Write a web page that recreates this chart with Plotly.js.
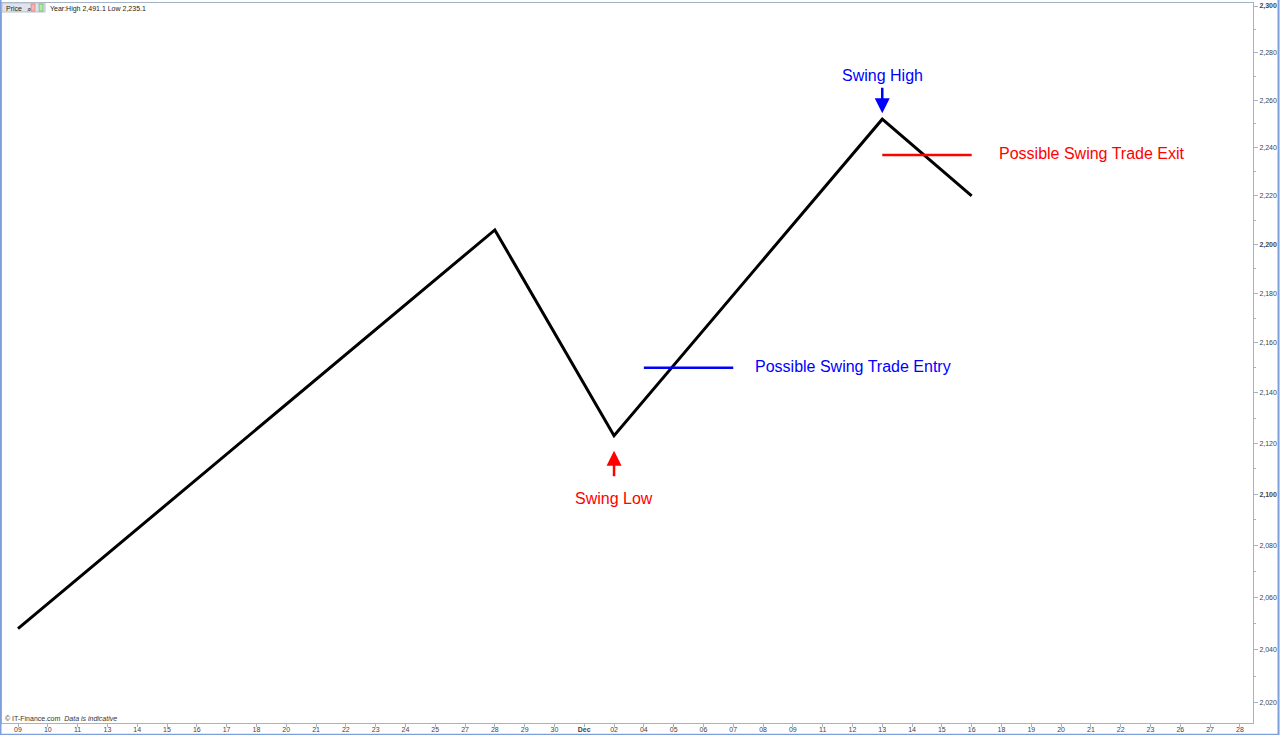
<!DOCTYPE html>
<html>
<head>
<meta charset="utf-8">
<script src="https://cdn.plot.ly/plotly-3.0.1.min.js"></script>
<style>
  html, body { margin: 0; padding: 0; background: #ffffff; }
  #chart { width: 1280px; height: 735px; }
</style>
</head>
<body>
<div id="chart"></div>
<script>
// Trading sessions shown on the time axis (category keys) and their printed labels
const sessionKeys = [
  'Nov 09','Nov 10','Nov 11','Nov 13','Nov 14','Nov 15','Nov 16','Nov 17','Nov 18',
  'Nov 20','Nov 21','Nov 22','Nov 23','Nov 24','Nov 25','Nov 27','Nov 28','Nov 29','Nov 30',
  'Dec 01','Dec 02','Dec 04','Dec 05','Dec 06','Dec 07','Dec 08','Dec 09','Dec 11','Dec 12',
  'Dec 13','Dec 14','Dec 15','Dec 16','Dec 18','Dec 19','Dec 20','Dec 21','Dec 22','Dec 23',
  'Dec 26','Dec 27','Dec 28'
];
const sessionLabels = [
  '09','10','11','13','14','15','16','17','18',
  '20','21','22','23','24','25','27','28','29','30',
  '<b>Dec</b>','02','04','05','06','07','08','09','11','12',
  '13','14','15','16','18','19','20','21','22','23',
  '26','27','28'
];

// Swing points of the price path
const swingDates  = ['Nov 09', 'Nov 28', 'Dec 02', 'Dec 13', 'Dec 16'];
const swingPrices = [2048, 2206, 2123, 2252, 2220];

// Trade levels
const entryDates = ['Dec 04', 'Dec 07'];
const entryLevel = 2150;
const exitDates  = ['Dec 13', 'Dec 16'];
const exitLevel  = 2237;

// Price scale ticks
const priceTicks = [2020, 2040, 2060, 2080, 2100, 2120, 2140, 2160, 2180, 2200, 2220, 2240, 2260, 2280, 2300];
const priceMinorTicks = [2030, 2050, 2070, 2090, 2110, 2130, 2150, 2170, 2190, 2210, 2230, 2250, 2270, 2290];
const priceTickText = priceTicks.map(v => {
  const s = v.toLocaleString('en-US');
  return (v % 100 === 0) ? '<b>' + s + '</b>' : s;
});

const lg = v => Math.log10(v);
const swingLowIdx = 2, swingHighIdx = 3;

const axisLine = '#a4b3c6';
const frameBlue = '#7d9fdc';
const tickFont = { family: 'Liberation Sans, Arial, sans-serif', size: 7, color: '#444444' };
const noteFont = (c) => ({ family: 'Liberation Sans, Arial, sans-serif', size: 16, color: c });

const traces = [
  {
    x: swingDates, y: swingPrices, type: 'scatter', mode: 'lines',
    line: { color: '#000000', width: 3 }, hoverinfo: 'skip'
  },
  {
    x: entryDates, y: [entryLevel, entryLevel], type: 'scatter', mode: 'lines',
    line: { color: '#0000ff', width: 2.5 }, hoverinfo: 'skip'
  },
  {
    x: exitDates, y: [exitLevel, exitLevel], type: 'scatter', mode: 'lines',
    line: { color: '#ff0000', width: 2.5 }, hoverinfo: 'skip'
  }
];

const layout = {
  width: 1280, height: 735,
  margin: { l: 2, r: 27, t: 3, b: 12, pad: 0 },
  paper_bgcolor: '#ffffff', plot_bgcolor: '#ffffff',
  showlegend: false,
  font: { family: 'Liberation Sans, Arial, sans-serif' },
  xaxis: {
    type: 'category',
    categoryorder: 'array', categoryarray: sessionKeys,
    tickmode: 'array', tickvals: sessionKeys, ticktext: sessionLabels,
    range: [-0.537, 41.44],
    showgrid: false, zeroline: false,
    showline: true, linecolor: axisLine, linewidth: 1, mirror: true,
    ticks: 'outside', ticklen: 3, tickcolor: axisLine, tickwidth: 1,
    ticklabelstandoff: -3,
    tickfont: tickFont, tickangle: 0,
    fixedrange: true
  },
  yaxis: {
    type: 'log', side: 'right',
    range: [lg(2012.3), lg(2301.3)],
    tickmode: 'array', tickvals: priceTicks, ticktext: priceTickText,
    showgrid: false, zeroline: false,
    showline: true, linecolor: axisLine, linewidth: 1, mirror: true,
    ticks: 'outside', ticklen: 4, tickcolor: axisLine, tickwidth: 1,
    tickfont: tickFont,
    minor: { tickmode: 'array', tickvals: priceMinorTicks, ticks: 'outside', ticklen: 2, tickcolor: axisLine, showgrid: false },
    fixedrange: true
  },
  shapes: [
    // window frame
    { type: 'line', xref: 'paper', yref: 'paper', x0: -0.0012, x1: -0.0012, y0: -0.016, y1: 1.01, line: { color: frameBlue, width: 2 } },
    { type: 'line', xref: 'paper', yref: 'paper', x0: 1.0204, x1: 1.0204, y0: -0.016, y1: 1.01, line: { color: frameBlue, width: 2 } },
    { type: 'line', xref: 'paper', yref: 'paper', x0: -0.002, x1: 1.021, y0: -0.016, y1: -0.016, line: { color: frameBlue, width: 1.5 } },
    // header tool box
    { type: 'rect', xref: 'paper', yref: 'paper', x0: 0.0, x1: 0.0344, y0: 0.9875, y1: 1.0, fillcolor: '#dfe4ec', line: { color: '#b7c0cc', width: 1 } },
    { type: 'rect', xref: 'paper', yref: 'paper', x0: 0.0232, x1: 0.0264, y0: 0.9888, y1: 0.9986, fillcolor: '#f3b7b7', line: { color: '#d55', width: 0.5 } },
    { type: 'rect', xref: 'paper', yref: 'paper', x0: 0.0296, x1: 0.0328, y0: 0.9888, y1: 0.9986, fillcolor: '#b9e6b3', line: { color: '#3a3', width: 0.5 } }
  ],
  annotations: [
    // arrows
    {
      x: swingDates[swingHighIdx], y: lg(swingPrices[swingHighIdx]), xref: 'x', yref: 'y',
      text: '', showarrow: true, ax: 0, ay: -33, standoff: 6,
      arrowhead: 2, arrowsize: 1.2, arrowwidth: 2.5, arrowcolor: '#0000ff'
    },
    {
      x: swingDates[swingLowIdx], y: lg(swingPrices[swingLowIdx]), xref: 'x', yref: 'y',
      text: '', showarrow: true, ax: 0, ay: 42, standoff: 15,
      arrowhead: 2, arrowsize: 1.2, arrowwidth: 2.5, arrowcolor: '#ff0000'
    },
    // labels
    {
      x: swingDates[swingHighIdx], y: lg(swingPrices[swingHighIdx]), xref: 'x', yref: 'y',
      text: 'Swing High', showarrow: false, yshift: 44, font: noteFont('#0000ff')
    },
    {
      x: swingDates[swingLowIdx], y: lg(swingPrices[swingLowIdx]), xref: 'x', yref: 'y',
      text: 'Swing Low', showarrow: false, yshift: -63, font: noteFont('#ff0000')
    },
    {
      x: entryDates[1], y: lg(entryLevel), xref: 'x', yref: 'y',
      text: 'Possible Swing Trade Entry', showarrow: false, xanchor: 'left', xshift: 20, yshift: 1,
      font: noteFont('#0000ff')
    },
    {
      x: exitDates[1], y: lg(exitLevel), xref: 'x', yref: 'y',
      text: 'Possible Swing Trade Exit', showarrow: false, xanchor: 'left', xshift: 25, yshift: 2,
      font: noteFont('#ff0000')
    },
    // header texts
    {
      xref: 'paper', yref: 'paper', x: 0.0016, y: 0.9995, xanchor: 'left', yanchor: 'top',
      text: 'Price', showarrow: false, font: { family: 'Liberation Sans, Arial, sans-serif', size: 7, color: '#222' }
    },
    {
      xref: 'paper', yref: 'paper', x: 0.0184, y: 0.9995, xanchor: 'left', yanchor: 'top',
      text: '⌕', showarrow: false, font: { family: 'DejaVu Sans, sans-serif', size: 8, color: '#445' }
    },
    {
      xref: 'paper', yref: 'paper', x: 0.037, y: 0.9995, xanchor: 'left', yanchor: 'top',
      text: 'Year:High 2,491.1 Low 2,235.1', showarrow: false,
      font: { family: 'Liberation Sans, Arial, sans-serif', size: 7, color: '#222' }
    },
    // credit line
    {
      xref: 'paper', yref: 'paper', x: 0.0008, y: -0.002, xanchor: 'left', yanchor: 'bottom',
      text: '© IT-Finance.com  <i>Data is indicative</i>', showarrow: false,
      font: { family: 'Liberation Sans, Arial, sans-serif', size: 7, color: '#333' }
    }
  ]
};

Plotly.newPlot('chart', traces, layout, { staticPlot: true, displayModeBar: false });
</script>
</body>
</html>
